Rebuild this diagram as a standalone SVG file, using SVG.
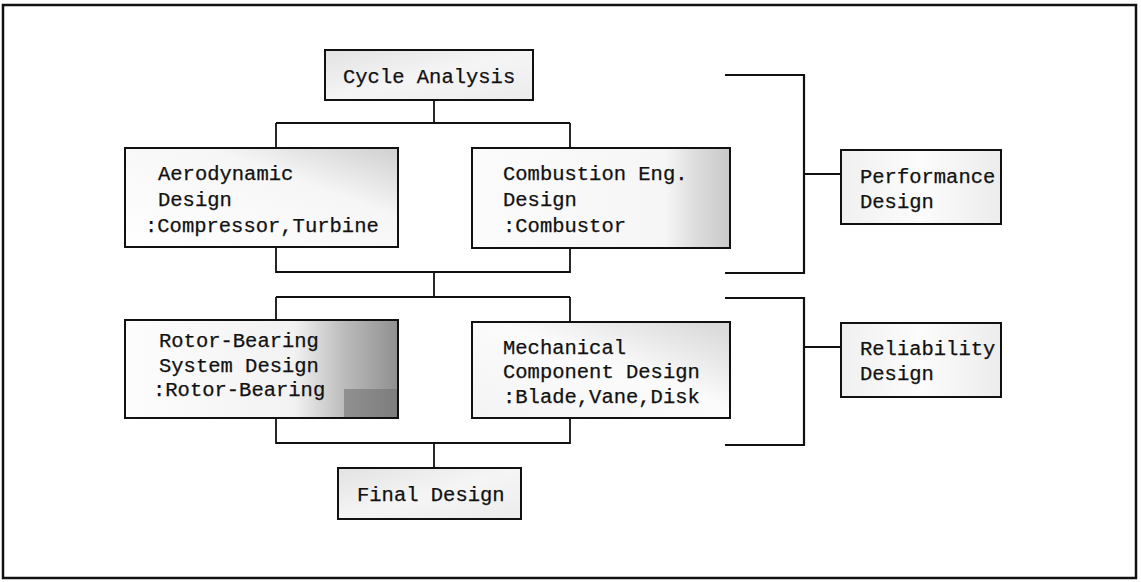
<svg xmlns="http://www.w3.org/2000/svg" width="1141" height="582" viewBox="0 0 1141 582">
  <style>
    .box { stroke: #111; stroke-width: 2; }
    .wire { fill: none; stroke: #111; stroke-width: 1.8; }
    .frame { fill: #fff; stroke: #111; stroke-width: 2.5; }
    text { font-family: "Liberation Mono", "DejaVu Sans Mono", monospace; font-size: 20.5px; fill: #111; stroke: #111; stroke-width: 0.25; }
  </style>
  <defs>
    <linearGradient id="gLight" x1="0" y1="0" x2="1" y2="1">
      <stop offset="0" stop-color="#e2e2e2"/>
      <stop offset="0.5" stop-color="#f5f5f5"/>
      <stop offset="1" stop-color="#ececec"/>
    </linearGradient>
    <linearGradient id="gRight" x1="0" y1="0" x2="1" y2="0">
      <stop offset="0" stop-color="#fbfbfb"/>
      <stop offset="0.75" stop-color="#f6f6f6"/>
      <stop offset="0.86" stop-color="#dedede"/>
      <stop offset="1" stop-color="#c8c8c8"/>
    </linearGradient>
    <linearGradient id="gAero" x1="0" y1="1" x2="1" y2="0">
      <stop offset="0" stop-color="#ffffff"/>
      <stop offset="0.65" stop-color="#f6f6f6"/>
      <stop offset="1" stop-color="#cfcfcf"/>
    </linearGradient>
    <linearGradient id="gRotor" x1="0" y1="0" x2="1" y2="0">
      <stop offset="0" stop-color="#fdfdfd"/>
      <stop offset="0.62" stop-color="#f2f2f2"/>
      <stop offset="0.8" stop-color="#bcbcbc"/>
      <stop offset="1" stop-color="#909090"/>
    </linearGradient>
    <linearGradient id="gMech" x1="0" y1="1" x2="1" y2="0">
      <stop offset="0" stop-color="#f4f4f4"/>
      <stop offset="0.55" stop-color="#fbfbfb"/>
      <stop offset="1" stop-color="#d6d6d6"/>
    </linearGradient>
    <linearGradient id="gSide" x1="0" y1="0" x2="1" y2="0">
      <stop offset="0" stop-color="#f0f0f0"/>
      <stop offset="0.5" stop-color="#fcfcfc"/>
      <stop offset="1" stop-color="#ececec"/>
    </linearGradient>
  </defs>

  <rect class="frame" x="3" y="5" width="1133" height="573"/>

  <g id="connectors">
    <path class="wire" d="M434 100 V123 M276 123 H570 M276 123 V148 M570 123 V148"/>
    <path class="wire" d="M276 247 V272 H570 V248 M434 272 V297"/>
    <path class="wire" d="M276 297 H570 M276 297 V320 M570 297 V322"/>
    <path class="wire" d="M276 418 V443 H570 V418 M434 443 V468"/>
    <path class="wire" d="M725 75 H804 V273 H725 M804 174 H841" style="stroke-width:2.2"/>
    <path class="wire" d="M725 298 H804 V445 H725 M804 347 H841" style="stroke-width:2.2"/>
  </g>

  <g id="cycle-analysis">
    <rect class="box" x="325" y="50" width="208" height="50" fill="url(#gLight)"/>
    <text x="343" y="83">Cycle Analysis</text>
  </g>

  <g id="aerodynamic-design">
    <rect class="box" x="125" y="148" width="273" height="99" fill="url(#gAero)"/>
    <text x="158" y="180">Aerodynamic</text>
    <text x="158" y="206">Design</text>
    <text x="145" y="232">:Compressor,Turbine</text>
  </g>

  <g id="combustion-design">
    <rect class="box" x="472" y="148" width="258" height="100" fill="url(#gRight)"/>
    <text x="503" y="180">Combustion Eng.</text>
    <text x="503" y="206">Design</text>
    <text x="503" y="232">:Combustor</text>
  </g>

  <g id="rotor-bearing-design">
    <rect class="box" x="125" y="320" width="273" height="98" fill="url(#gRotor)"/>
    <rect x="344" y="389" width="53" height="28" fill="#6e6e6e" opacity="0.55"/>
    <text x="159" y="347">Rotor-Bearing</text>
    <text x="159" y="372">System Design</text>
    <text x="153" y="396">:Rotor-Bearing</text>
  </g>

  <g id="mechanical-design">
    <rect class="box" x="472" y="322" width="258" height="96" fill="url(#gMech)"/>
    <text x="503" y="354">Mechanical</text>
    <text x="503" y="378">Component Design</text>
    <text x="503" y="403">:Blade,Vane,Disk</text>
  </g>

  <g id="final-design">
    <rect class="box" x="338" y="468" width="183" height="51" fill="url(#gLight)"/>
    <text x="357" y="501">Final Design</text>
  </g>

  <g id="performance-design">
    <rect class="box" x="841" y="150" width="160" height="74" fill="url(#gSide)"/>
    <text x="860" y="183">Performance</text>
    <text x="860" y="208">Design</text>
  </g>

  <g id="reliability-design">
    <rect class="box" x="841" y="323" width="160" height="74" fill="url(#gSide)"/>
    <text x="860" y="355">Reliability</text>
    <text x="860" y="380">Design</text>
  </g>
</svg>
